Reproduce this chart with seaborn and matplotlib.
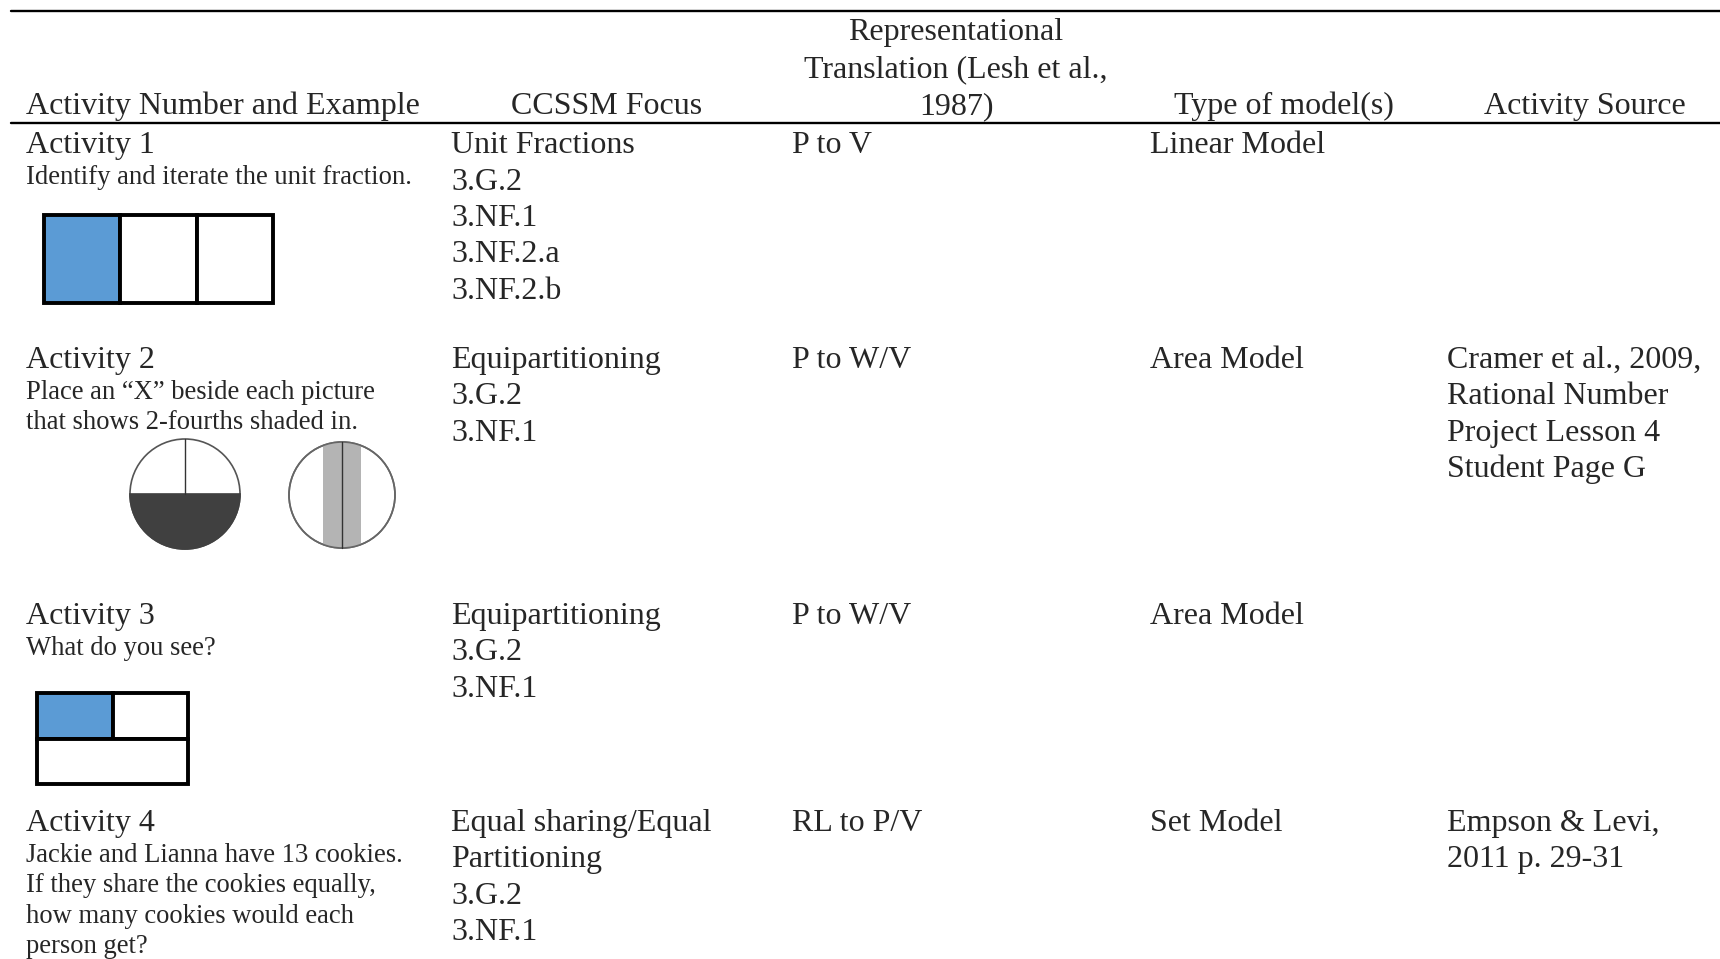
import matplotlib.pyplot as plt
import seaborn as sns
from matplotlib.patches import Rectangle, Circle, Wedge

# 1. Conteúdo da tabela
header_labels = [
    ["Activity Number and Example"],
    ["CCSSM Focus"],
    ["Representational", "Translation (Lesh et al.,", "1987)"],
    ["Type of model(s)"],
    ["Activity Source"],
]

activity_titles = ["Activity 1", "Activity 2", "Activity 3", "Activity 4"]
activity_prompts = [
    ["Identify and iterate the unit fraction."],
    ["Place an \u201cX\u201d beside each picture", "that shows 2-fourths shaded in."],
    ["What do you see?"],
    ["Jackie and Lianna have 13 cookies.", "If they share the cookies equally,",
     "how many cookies would each", "person get?"],
]
ccssm_focus = [
    ["Unit Fractions", "3.G.2", "3.NF.1", "3.NF.2.a", "3.NF.2.b"],
    ["Equipartitioning", "3.G.2", "3.NF.1"],
    ["Equipartitioning", "3.G.2", "3.NF.1"],
    ["Equal sharing/Equal", "Partitioning", "3.G.2", "3.NF.1"],
]
translations = [["P to V"], ["P to W/V"], ["P to W/V"], ["RL to P/V"]]
model_types = [["Linear Model"], ["Area Model"], ["Area Model"], ["Set Model"]]
sources = [
    [],
    ["Cramer et al., 2009,", "Rational Number", "Project Lesson 4", "Student Page G"],
    [],
    ["Empson & Levi,", "2011 p. 29-31"],
]

# frações dos desenhos
linear_parts, linear_shaded = 3, 1
area_top_parts, area_top_shaded = 2, 1

# 2. Layout (pixels)
W, H = 1720, 959
col_x = [26, 451, 792, 1150, 1447]
header_cx = [223, 607, 956, 1284, 1585]
row_y = [153, 368, 624, 831]
big_step, small_step = 36.5, 30.3
big_fs, small_fs = 23, 19.2

sns.set_style("white")
plt.rcParams['font.family'] = ['Liberation Serif', 'DejaVu Serif']

fig = plt.figure(figsize=(W / 100, H / 100), dpi=100)
ax = fig.add_axes([0, 0, 1, 1])
ax.set_xlim(0, W)
ax.set_ylim(H, 0)
ax.axis('off')

# linhas da tabela
ax.plot([11, W], [11, 11], color='black', lw=1.7)
ax.plot([11, W], [123, 123], color='black', lw=1.7)

# cabeçalho (alinhado pela base)
for cx, lines in zip(header_cx, header_labels):
    n = len(lines)
    for i, t in enumerate(lines):
        y = 114 - (n - 1 - i) * 37
        ax.text(cx, y, t, ha='center', va='baseline', fontsize=big_fs)

# corpo
for r, y0 in enumerate(row_y):
    ax.text(col_x[0], y0, activity_titles[r], va='baseline', fontsize=big_fs)
    for i, t in enumerate(activity_prompts[r]):
        ax.text(col_x[0], y0 + 31 + i * small_step, t, va='baseline', fontsize=small_fs)
    for c, col in zip(col_x[1:], [ccssm_focus, translations, model_types, sources]):
        for i, t in enumerate(col[r]):
            ax.text(c, y0 + i * big_step, t, va='baseline', fontsize=big_fs)

# Atividade 1: modelo linear
x0, y0, bw, bh = 44, 215, 229, 88
cw = bw / linear_parts
for k in range(linear_parts):
    ax.add_patch(Rectangle((x0 + k * cw, y0), cw, bh,
                           facecolor='#5B9BD5' if k < linear_shaded else 'white',
                           edgecolor='black', lw=2.8))

# Atividade 2: círculos
c1 = (185, 494)
ax.add_patch(Circle(c1, 55, facecolor='white', edgecolor='#555555', lw=1.2))
ax.add_patch(Wedge(c1, 55, 0, 180, facecolor='#404040', edgecolor='#404040', lw=1.2))
ax.plot([c1[0], c1[0]], [c1[1] - 55, c1[1]], color='#333333', lw=1)

c2 = (342, 495)
circ2 = Circle(c2, 53, facecolor='white', edgecolor='#666666', lw=1.2)
ax.add_patch(circ2)
stripe = Rectangle((c2[0] - 19, c2[1] - 60), 38, 120, facecolor='#b4b4b4', edgecolor='none')
ax.add_patch(stripe)
stripe.set_clip_path(circ2)
ax.plot([c2[0], c2[0]], [c2[1] - 53, c2[1] + 53], color='#333333', lw=1)
ax.add_patch(Circle(c2, 53, facecolor='none', edgecolor='#666666', lw=1.2))

# Atividade 3: modelo de área
x0, y0, bw, bh = 37, 693, 151, 91
cw = bw / area_top_parts
for k in range(area_top_parts):
    ax.add_patch(Rectangle((x0 + k * cw, y0), cw, bh / 2,
                           facecolor='#5B9BD5' if k < area_top_shaded else 'white',
                           edgecolor='black', lw=2.8))
ax.add_patch(Rectangle((x0, y0 + bh / 2), bw, bh / 2, facecolor='white',
                       edgecolor='black', lw=2.8))

fig.savefig('out.png', dpi=100)
